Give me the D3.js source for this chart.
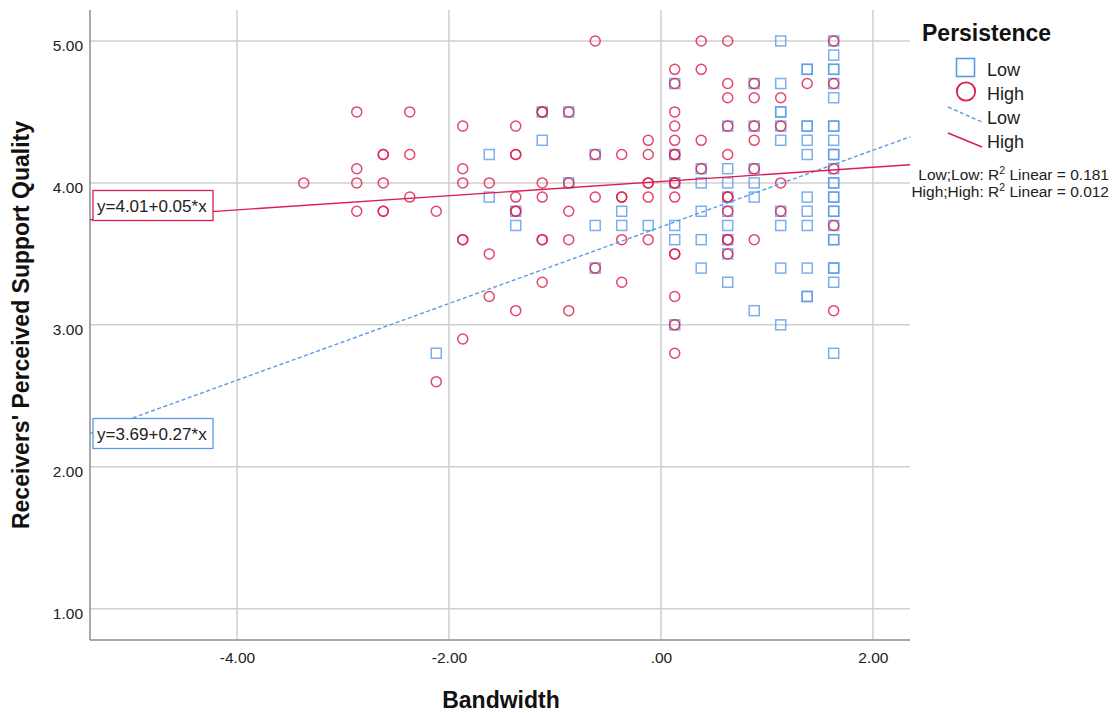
<!DOCTYPE html>
<html>
<head>
<meta charset="utf-8">
<script src="https://cdn.jsdelivr.net/npm/d3@7"></script>
<style>
  html, body { margin: 0; padding: 0; background: #ffffff; }
  svg { display: block; font-family: "Liberation Sans", Arial, sans-serif; }
</style>
</head>
<body>
<svg id="chart" width="1114" height="713"></svg>
<script>
// ---------------- DATA ----------------
const xTicks = [-4, -2, 0, 2];
const xTickLabels = ["-4.00", "-2.00", ".00", "2.00"];
const yTicks = [1, 2, 3, 4, 5];
const yTickLabels = ["1.00", "2.00", "3.00", "4.00", "5.00"];

// Persistence = Low (squares): [Bandwidth, Quality]
const lowPoints = [
  [-2.12, 2.8],
  [-1.62, 4.2], [-1.62, 3.9],
  [-1.37, 3.8], [-1.37, 3.7],
  [-1.12, 4.5], [-1.12, 4.3],
  [-0.87, 4.5], [-0.87, 4.0],
  [-0.62, 4.2], [-0.62, 3.7], [-0.62, 3.4],
  [-0.37, 3.8], [-0.37, 3.7],
  [-0.12, 3.7],
  [0.13, 4.7], [0.13, 4.2], [0.13, 4.0], [0.13, 3.7], [0.13, 3.6], [0.13, 3.0],
  [0.38, 4.1], [0.38, 4.0], [0.38, 3.8], [0.38, 3.6], [0.38, 3.4],
  [0.63, 4.4], [0.63, 4.1], [0.63, 4.0], [0.63, 3.9], [0.63, 3.8], [0.63, 3.7], [0.63, 3.6], [0.63, 3.5], [0.63, 3.3],
  [0.88, 4.7], [0.88, 4.4], [0.88, 4.1], [0.88, 4.0], [0.88, 3.9], [0.88, 3.1],
  [1.13, 5.0], [1.13, 4.7], [1.13, 4.5], [1.13, 4.5], [1.13, 4.4], [1.13, 4.3], [1.13, 3.8], [1.13, 3.7], [1.13, 3.4], [1.13, 3.0],
  [1.38, 4.8], [1.38, 4.8], [1.38, 4.4], [1.38, 4.4], [1.38, 4.3], [1.38, 4.2], [1.38, 3.9], [1.38, 3.8], [1.38, 3.7], [1.38, 3.4], [1.38, 3.2], [1.38, 3.2],
  [1.63, 5.0], [1.63, 4.9], [1.63, 4.8], [1.63, 4.8], [1.63, 4.7], [1.63, 4.6], [1.63, 4.4], [1.63, 4.4], [1.63, 4.3],
  [1.63, 4.2], [1.63, 4.2], [1.63, 4.1], [1.63, 4.0], [1.63, 4.0], [1.63, 3.9], [1.63, 3.9], [1.63, 3.8], [1.63, 3.8],
  [1.63, 3.7], [1.63, 3.6], [1.63, 3.6], [1.63, 3.4], [1.63, 3.4], [1.63, 3.3], [1.63, 2.8]
];

// Persistence = High (circles): [Bandwidth, Quality]
const highPoints = [
  [-3.37, 4.0],
  [-2.87, 4.5], [-2.87, 4.1], [-2.87, 4.0], [-2.87, 3.8],
  [-2.62, 4.2], [-2.62, 4.2], [-2.62, 4.0], [-2.62, 3.8], [-2.62, 3.8],
  [-2.37, 4.5], [-2.37, 4.2], [-2.37, 3.9],
  [-2.12, 3.8], [-2.12, 2.6],
  [-1.87, 4.4], [-1.87, 4.1], [-1.87, 4.0], [-1.87, 3.6], [-1.87, 3.6], [-1.87, 2.9],
  [-1.62, 4.0], [-1.62, 3.5], [-1.62, 3.2],
  [-1.37, 4.4], [-1.37, 4.2], [-1.37, 4.2], [-1.37, 3.9], [-1.37, 3.8], [-1.37, 3.8], [-1.37, 3.1],
  [-1.12, 4.5], [-1.12, 4.5], [-1.12, 4.0], [-1.12, 3.9], [-1.12, 3.6], [-1.12, 3.6], [-1.12, 3.3],
  [-0.87, 4.5], [-0.87, 4.0], [-0.87, 3.8], [-0.87, 3.6], [-0.87, 3.1],
  [-0.62, 5.0], [-0.62, 4.2], [-0.62, 3.9], [-0.62, 3.4],
  [-0.37, 4.2], [-0.37, 3.9], [-0.37, 3.9], [-0.37, 3.6], [-0.37, 3.3],
  [-0.12, 4.3], [-0.12, 4.2], [-0.12, 4.0], [-0.12, 4.0], [-0.12, 3.9], [-0.12, 3.6],
  [0.13, 4.8], [0.13, 4.7], [0.13, 4.5], [0.13, 4.4], [0.13, 4.3], [0.13, 4.2], [0.13, 4.2], [0.13, 4.0], [0.13, 4.0],
  [0.13, 3.9], [0.13, 3.5], [0.13, 3.5], [0.13, 3.2], [0.13, 3.0], [0.13, 2.8],
  [0.38, 5.0], [0.38, 4.8], [0.38, 4.3], [0.38, 4.1],
  [0.63, 5.0], [0.63, 4.7], [0.63, 4.6], [0.63, 4.4], [0.63, 4.2], [0.63, 3.9], [0.63, 3.9], [0.63, 3.8], [0.63, 3.6], [0.63, 3.6], [0.63, 3.5],
  [0.88, 4.7], [0.88, 4.6], [0.88, 4.4], [0.88, 4.3], [0.88, 4.1], [0.88, 3.6],
  [1.13, 4.6], [1.13, 4.4], [1.13, 4.0], [1.13, 3.8],
  [1.38, 4.7],
  [1.63, 5.0], [1.63, 4.7], [1.63, 4.1], [1.63, 3.7], [1.63, 3.1]
];

// Linear fits: [intercept, slope]
const lowFit = [3.69, 0.27];
const highFit = [4.01, 0.05];
const fitLabels = ["y=3.69+0.27*x", "y=4.01+0.05*x"];
const rSquared = ["Low;Low: R", " Linear = 0.181", "High;High: R", " Linear = 0.012"];
const legendTitle = "Persistence";
const legendLabels = ["Low", "High", "Low", "High"];

// ---------------- DRAW ----------------
const blue = "#5b9be6";
const red = "#dc1f4d";

const svg = d3.select("#chart");
const plot = { left: 90, right: 910, top: 10, bottom: 640 };

const x = d3.scaleLinear().domain([-5.387, 2.35]).range([plot.left, plot.right]);
const y = d3.scaleLinear().domain([0.78, 5.218]).range([plot.bottom, plot.top]);

// gridlines
const grid = svg.append("g");
grid.selectAll("line.h").data(yTicks).join("line")
  .attr("x1", plot.left).attr("x2", plot.right)
  .attr("y1", d => y(d)).attr("y2", d => y(d))
  .attr("stroke", "#cfcfcf").attr("stroke-width", 1.5);
grid.selectAll("line.v").data(xTicks).join("line")
  .attr("y1", plot.top).attr("y2", plot.bottom)
  .attr("x1", d => x(d)).attr("x2", d => x(d))
  .attr("stroke", "#cfcfcf").attr("stroke-width", 1.5);

// axes
const xAxis = d3.axisBottom(x).tickValues(xTicks)
  .tickFormat((d, i) => xTickLabels[i]).tickSize(0).tickPadding(10);
const yAxis = d3.axisLeft(y).tickValues(yTicks)
  .tickFormat((d, i) => yTickLabels[i]).tickSize(0).tickPadding(7);

const gx = svg.append("g").attr("transform", `translate(0,${plot.bottom})`).call(xAxis);
const gy = svg.append("g").attr("transform", `translate(${plot.left},0)`).call(yAxis);
gx.select(".domain").remove();
gy.select(".domain").remove();
[gx, gy].forEach(g => g.selectAll("text")
  .attr("font-family", "'Liberation Sans', Arial, sans-serif")
  .attr("font-size", 15.5).attr("fill", "#222"));
gx.selectAll("text").attr("dy", "0.71em").attr("y", 12);
gy.selectAll("text").attr("dy", "0.62em").attr("x", -7);

svg.append("line").attr("x1", plot.left).attr("x2", plot.left)
  .attr("y1", plot.top).attr("y2", plot.bottom).attr("stroke", "#8c8c8c").attr("stroke-width", 1.5);
svg.append("line").attr("x1", plot.left).attr("x2", plot.right)
  .attr("y1", plot.bottom).attr("y2", plot.bottom).attr("stroke", "#8c8c8c").attr("stroke-width", 1.5);

// axis titles
svg.append("text").attr("x", (plot.left + plot.right) / 2 + 1).attr("y", 708)
  .attr("text-anchor", "middle").attr("font-size", 23).attr("font-weight", "bold")
  .attr("fill", "#111").text("Bandwidth");
svg.append("text").attr("transform", "translate(29,325) rotate(-90)")
  .attr("text-anchor", "middle").attr("font-size", 23).attr("font-weight", "bold")
  .attr("fill", "#111").text("Receivers' Perceived Support Quality");

// markers
const pts = svg.append("g");
pts.selectAll("rect").data(lowPoints).join("rect")
  .attr("x", d => x(d[0]) - 5).attr("y", d => y(d[1]) - 5)
  .attr("width", 10).attr("height", 10)
  .attr("fill", "none").attr("stroke", blue).attr("stroke-width", 1.5)
  .attr("stroke-opacity", 0.8);
pts.selectAll("circle").data(highPoints).join("circle")
  .attr("cx", d => x(d[0])).attr("cy", d => y(d[1])).attr("r", 5)
  .attr("fill", "none").attr("stroke", red).attr("stroke-width", 1.5)
  .attr("stroke-opacity", 0.82);

// fit lines across the full x range
const [xmin, xmax] = x.domain();
svg.append("line")
  .attr("x1", x(xmin)).attr("y1", y(lowFit[0] + lowFit[1] * xmin))
  .attr("x2", x(xmax)).attr("y2", y(lowFit[0] + lowFit[1] * xmax))
  .attr("stroke", blue).attr("stroke-width", 1.4).attr("stroke-dasharray", "4,2.5");
svg.append("line")
  .attr("x1", x(xmin)).attr("y1", y(highFit[0] + highFit[1] * xmin))
  .attr("x2", x(xmax)).attr("y2", y(highFit[0] + highFit[1] * xmax))
  .attr("stroke", red).attr("stroke-width", 1.4);

// equation boxes
function eqBox(top, color, label) {
  svg.append("rect").attr("x", 93).attr("y", top).attr("width", 120).attr("height", 30)
    .attr("fill", "#fff").attr("stroke", color).attr("stroke-width", 1.3);
  svg.append("text").attr("x", 97).attr("y", top + 21.5)
    .attr("font-size", 17).attr("fill", "#222").text(label);
}
eqBox(190.5, red, fitLabels[1]);
eqBox(418.5, blue, fitLabels[0]);

// legend
const lg = svg.append("g");
lg.append("text").attr("x", 922).attr("y", 41).attr("font-size", 23).attr("font-weight", "bold")
  .attr("fill", "#111").text(legendTitle);
lg.append("rect").attr("x", 956.5).attr("y", 58.5).attr("width", 18).attr("height", 18)
  .attr("fill", "none").attr("stroke", blue).attr("stroke-width", 1.6);
lg.append("circle").attr("cx", 966).attr("cy", 91.5).attr("r", 9.2)
  .attr("fill", "none").attr("stroke", red).attr("stroke-width", 1.8);
lg.append("line").attr("x1", 948).attr("y1", 107).attr("x2", 982).attr("y2", 122)
  .attr("stroke", blue).attr("stroke-width", 1.4).attr("stroke-dasharray", "4,2.5");
lg.append("line").attr("x1", 948).attr("y1", 133).attr("x2", 982).attr("y2", 147)
  .attr("stroke", red).attr("stroke-width", 1.6);
const legendY = [76, 99.5, 123.5, 148];
legendLabels.forEach((t, i) => {
  lg.append("text").attr("x", 987).attr("y", legendY[i]).attr("font-size", 18)
    .attr("fill", "#222").text(t);
});

// R squared lines
function r2(yb, a, b) {
  const t = lg.append("text").attr("x", 1109).attr("y", yb).attr("text-anchor", "end")
    .attr("font-size", 15.5).attr("fill", "#222");
  t.append("tspan").text(a);
  t.append("tspan").attr("font-size", 10.5).attr("dy", -6).text("2");
  t.append("tspan").attr("dy", 6).text(b);
}
r2(180, rSquared[0], rSquared[1]);
r2(197, rSquared[2], rSquared[3]);
</script>
</body>
</html>
